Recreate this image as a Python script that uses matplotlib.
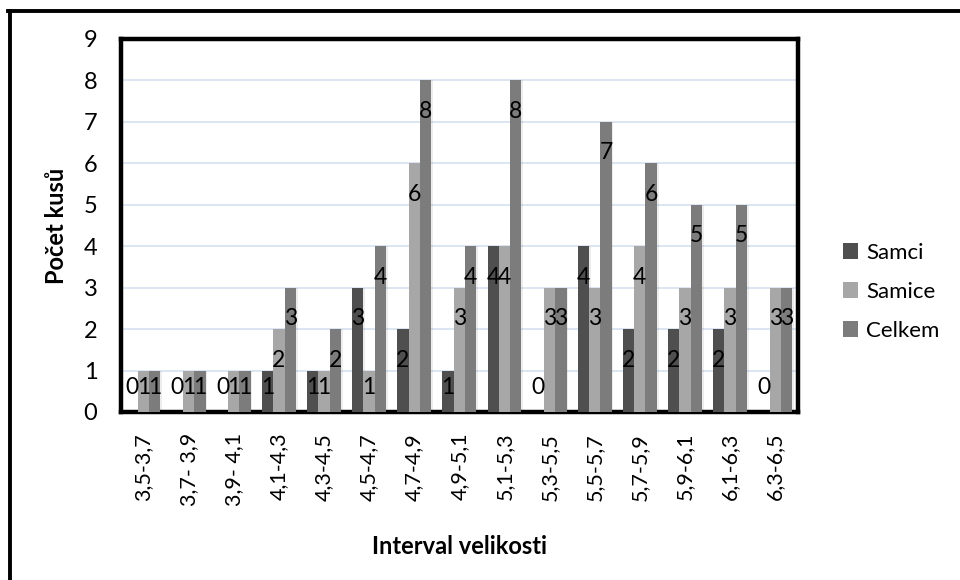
import matplotlib
matplotlib.use("Agg")
import matplotlib.pyplot as plt
import numpy as np
from matplotlib.lines import Line2D

plt.rcParams["font.family"] = ["Lato", "DejaVu Sans"]

intervals = ["3,5-3,7", "3,7- 3,9", "3,9- 4,1", "4,1-4,3", "4,3-4,5",
             "4,5-4,7", "4,7-4,9", "4,9-5,1", "5,1-5,3", "5,3-5,5",
             "5,5-5,7", "5,7-5,9", "5,9-6,1", "6,1-6,3", "6,3-6,5"]
samci = [0, 0, 0, 1, 1, 3, 2, 1, 4, 0, 4, 2, 2, 2, 0]
samice = [1, 1, 1, 2, 1, 1, 6, 3, 4, 3, 3, 4, 3, 3, 3]
celkem = [1, 1, 1, 3, 2, 4, 8, 4, 8, 3, 7, 6, 5, 5, 3]

series = [("Samci", samci, "#4f4f4f"),
          ("Samice", samice, "#a7a7a7"),
          ("Celkem", celkem, "#7c7c7c")]

fig = plt.figure(figsize=(9.6, 5.8), dpi=100)
ax = fig.add_axes([0.126, 0.2897, 0.705, 0.6431])

x = np.arange(len(intervals))
width = 0.25
for i, (name, vals, color) in enumerate(series):
    pos = x + (i - 1) * width
    # soft shadow to the right of every bar
    ax.bar(pos + 0.04, vals, width, color="#000000", alpha=0.07, zorder=2,
           linewidth=0)
    ax.bar(pos, vals, width, color=color, label=name, zorder=3, linewidth=0)
    for p, v in zip(pos, vals):
        ax.text(p, max(v - 0.75, 0.6), str(v), ha="center", va="center",
                fontsize=16.5, color="black", zorder=5)

ax.set_xlim(-0.5, len(intervals) - 0.5)
ax.set_ylim(0, 9)
ax.set_yticks(range(0, 10))
ax.yaxis.grid(True, color="#d6e2f1", linewidth=1.2, zorder=0)
ax.set_axisbelow(True)
ax.tick_params(axis="y", length=0, pad=17, labelsize=17)
ax.set_xticks(x)
ax.set_xticklabels(intervals, rotation=90, fontsize=15.5)
ax.tick_params(axis="x", length=0, pad=15)
for s in ax.spines.values():
    s.set_linewidth(3.2)
    s.set_color("black")

ax.set_xlabel("Interval velikosti", fontsize=17, fontweight="bold", labelpad=21)
ax.set_ylabel("Počet kusů", fontsize=17, fontweight="bold", labelpad=11)

fig.legend(loc="center left", bbox_to_anchor=(0.857, 0.497), frameon=False,
           fontsize=16, handlelength=0.7, handleheight=0.7, handletextpad=0.35,
           labelspacing=0.85)

# outer chart frame: only top and left edges fall inside the image
fig.add_artist(Line2D([8 / 960, 1.0], [1 - 11 / 580, 1 - 11 / 580],
                      transform=fig.transFigure, color="black", linewidth=2.8))
fig.add_artist(Line2D([10 / 960, 10 / 960], [0.0, 1 - 11 / 580],
                      transform=fig.transFigure, color="black", linewidth=2.8))

fig.savefig("out.png", dpi=100)
